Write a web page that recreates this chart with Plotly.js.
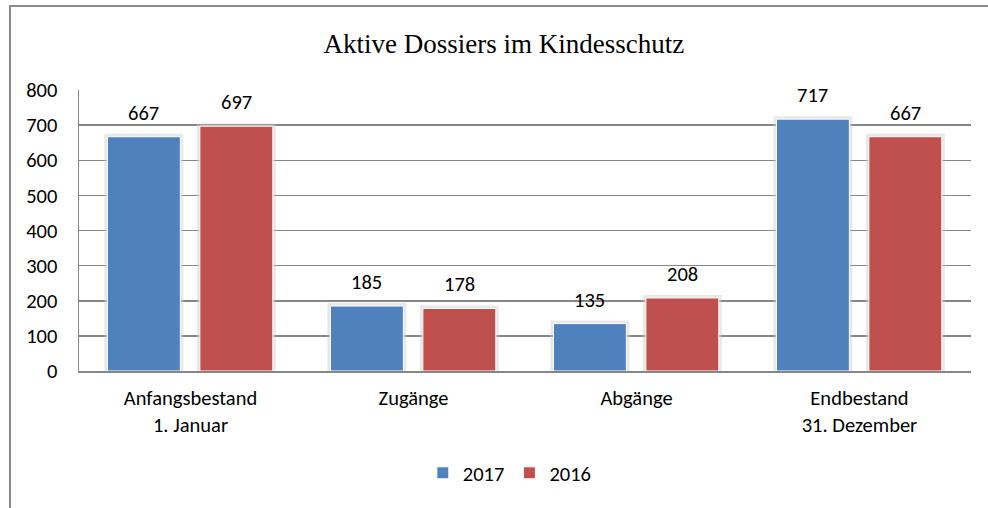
<!DOCTYPE html>
<html><head><meta charset="utf-8">
<script src="https://cdn.plot.ly/plotly-3.0.1.min.js"></script>
<style>
html,body{margin:0;padding:0;background:#fff;overflow:hidden}
#frame{position:absolute;left:9px;top:5px;width:1000px;height:520px;border-top:2px solid #8a8a8a;border-left:2px solid #8a8a8a;box-sizing:border-box}
#chart{position:absolute;left:0;top:0;width:988px;height:508px}
</style></head>
<body>
<div id="chart"></div>
<div id="frame"></div>
<script>
const categories = ["Anfangsbestand<br>1. Januar", "Zugänge", "Abgänge", "Endbestand<br>31. Dezember"];
const series2017 = [667, 185, 135, 717];
const series2016 = [697, 178, 208, 667];
const seriesNames = ["2017", "2016"];
const yTicks = [0, 100, 200, 300, 400, 500, 600, 700, 800];

const colors = ["#4F81BD", "#C0504D"];
const barW = 0.327;
const offsets = [-0.3725, 0.042];
const font = "Carlito, Lato, 'Open Sans', sans-serif";
const fs = 20.5;
const vals = [series2017, series2016];

const traces = [];
vals.forEach((v, i) => {
  traces.push({
    type: 'bar', x: categories, y: v, width: barW, offset: offsets[i],
    marker: {color: '#e8e8e8', line: {color: 'rgba(205,205,205,0.45)', width: 6}},
    showlegend: false, hoverinfo: 'skip'
  });
});
vals.forEach((v, i) => {
  traces.push({
    type: 'bar', x: categories, y: v, name: seriesNames[i], width: barW, offset: offsets[i],
    marker: {color: colors[i], line: {color: '#ffffff', width: 1}}
  });
});

const annotations = [];
vals.forEach((v, i) => {
  v.forEach((val, j) => {
    annotations.push({
      x: j + offsets[i] + barW / 2, y: val, xref: 'x', yref: 'y',
      text: String(val), showarrow: false, yanchor: 'bottom', xanchor: 'center', yshift: 9,
      font: {family: font, size: fs, color: '#000'}
    });
  });
});

const layout = {
  width: 988, height: 508,
  margin: {l: 79, r: 17, t: 90, b: 137},
  paper_bgcolor: '#fff', plot_bgcolor: '#fff',
  barmode: 'overlay',
  annotations: annotations,
  title: {text: 'Aktive Dossiers im Kindesschutz', font: {family: "'Liberation Serif', 'DejaVu Serif', serif", size: 27, color: '#000'},
          x: 0.51, xanchor: 'center', y: 0.915, yanchor: 'middle', xref: 'container', yref: 'container'},
  font: {family: font, size: fs, color: '#000'},
  xaxis: {type: 'category', showline: true, linecolor: '#868686', linewidth: 1.5,
          ticks: 'outside', ticklen: 8, tickcolor: 'rgba(0,0,0,0)',
          tickfont: {family: font, size: fs, color: '#000'}, showgrid: false, zeroline: false},
  yaxis: {range: [0, 800], tickvals: yTicks, showgrid: true, gridcolor: '#868686', gridwidth: 1.5,
          showline: true, linecolor: '#868686', linewidth: 1.5, zeroline: false,
          ticks: 'outside', ticklen: 16, tickcolor: 'rgba(0,0,0,0)',
          tickfont: {family: font, size: fs, color: '#000'}},
  legend: {orientation: 'h', x: 0.483, xanchor: 'center', y: -0.363, yanchor: 'middle',
           itemwidth: 30, font: {family: font, size: fs, color: '#000'}, traceorder: 'normal'},
  showlegend: true
};
Plotly.newPlot('chart', traces, layout, {displayModeBar: false, staticPlot: true});
</script>
</body></html>
